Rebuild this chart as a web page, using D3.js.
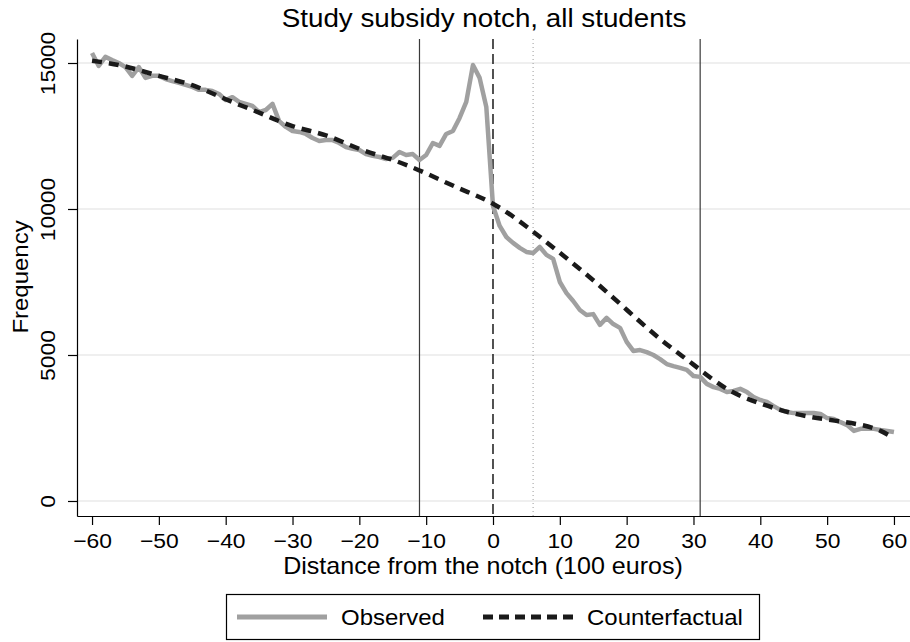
<!DOCTYPE html>
<html>
<head>
<meta charset="utf-8">
<script src="https://cdn.jsdelivr.net/npm/d3@7"></script>
<style>
  html, body { margin: 0; padding: 0; background: #fff; }
  svg { display: block; font-family: "Liberation Sans", Arial, Helvetica, sans-serif; }
  text { fill: #000; }
</style>
</head>
<body>
<svg id="chart" width="910" height="642"></svg>
<script>
// Observed bin counts, one bin per 100 euros, from -60 to 60
const binX = d3.range(-60, 61);
const observed = [
  15340, 14900, 15210, 15100, 15000, 14860, 14560, 14860, 14490, 14560, // -60..-51
  14560, 14450, 14380, 14320, 14250, 14180, 14080, 14080, 14040, 13940, // -50..-41
  13730, 13830, 13670, 13600, 13530, 13320, 13390, 13600, 13010, 12810, // -40..-31
  12670, 12640, 12570, 12430, 12330, 12360, 12360, 12260, 12120, 12060, // -30..-21
  12020, 11880, 11820, 11780, 11710, 11750, 11950, 11850, 11880, 11680, // -20..-11
  11850, 12260, 12160, 12570, 12670, 13120, 13670, 14930, 14490, 13490, // -10..-1
  10100,                                                                 // 0
  9420, 9040, 8840, 8670, 8530, 8490, 8700, 8430, 8290, 7500,           // 1..10
  7120, 6850, 6540, 6370, 6400, 6030, 6270, 6060, 5930, 5450,           // 11..20
  5140, 5170, 5100, 5000, 4860, 4690, 4620, 4560, 4490, 4280,           // 21..30
  4250, 4010, 3900, 3840, 3730, 3770, 3840, 3730, 3560, 3460,           // 31..40
  3390, 3250, 3120, 3050, 3010, 3010, 3010, 3010, 2980, 2840,           // 41..50
  2810, 2700, 2600, 2400, 2470, 2470, 2470, 2430, 2400, 2360            // 51..60
];

// Counterfactual (smooth fit), read at every 5 bins
const cfX = [-60, -55, -50, -45, -40, -35, -30, -25, -20, -15, -10, -5, 0, 5, 10, 15, 20, 25, 30, 35, 40, 45, 50, 55, 58, 60];
const counterfactual = [15080, 14880, 14560, 14240, 13760, 13300, 12840, 12520, 12060, 11680, 11220, 10700, 10180, 9400, 8500, 7560, 6550, 5550, 4670, 3840, 3340, 3000, 2790, 2610, 2400, 2150];

const xTicks = d3.range(-60, 61, 10);
const yTicks = [0, 5000, 10000, 15000];
const solidLines = [-11, 31];
const dashedLines = [0];
const dottedLines = [6];

const svg = d3.select("#chart");
const m = { left: 77, right: 910, top: 39, bottom: 516 };
const SX = 1.09; // glyphs in the original are a bit wider than Liberation Sans

const x = d3.scaleLinear().domain([-62.25, 62.4]).range([m.left, m.right]);
const y = d3.scaleLinear().domain([-514, 15822]).range([m.bottom, m.top]);

// grid
svg.append("g").selectAll("line").data(yTicks).enter().append("line")
  .attr("x1", m.left).attr("x2", m.right)
  .attr("y1", d => y(d)).attr("y2", d => y(d))
  .attr("stroke", "#eaeaea").attr("stroke-width", 1.6);

// reference lines
const vline = (vals, opts) => svg.append("g").selectAll("line").data(vals).enter().append("line")
  .attr("x1", d => x(d)).attr("x2", d => x(d))
  .attr("y1", m.top).attr("y2", m.bottom)
  .attr("stroke", opts.color).attr("stroke-width", opts.width)
  .attr("stroke-dasharray", opts.dash || null);
vline(solidLines, { color: "#3a3a3a", width: 1.2 });
vline(dashedLines, { color: "#1a1a1a", width: 1.5, dash: "10,5" });
vline(dottedLines, { color: "#9a9a9a", width: 1, dash: "1,3" });

// observed
const obsLine = d3.line().x((d, i) => x(binX[i])).y(d => y(d));
svg.append("path").datum(observed)
  .attr("d", obsLine)
  .attr("fill", "none").attr("stroke", "#a0a0a0").attr("stroke-width", 4.5)
  .attr("stroke-linejoin", "round");

// counterfactual
const cfLine = d3.line().x((d, i) => x(cfX[i])).y(d => y(d)).curve(d3.curveNatural);
svg.append("path").datum(counterfactual)
  .attr("d", cfLine)
  .attr("fill", "none").attr("stroke", "#1a1a1a").attr("stroke-width", 4.5)
  .attr("stroke-dasharray", "10,7");

// axes
const xAxis = svg.append("g").attr("transform", `translate(0,${m.bottom})`)
  .call(d3.axisBottom(x).tickValues(xTicks).tickSize(9).tickSizeOuter(0));
xAxis.select(".domain").attr("stroke", "#000").attr("stroke-width", 1.2);
xAxis.selectAll(".tick line").attr("stroke", "#000").attr("stroke-width", 1.2);
xAxis.selectAll(".tick text")
  .attr("y", null).attr("dy", null)
  .attr("transform", `translate(0,32) scale(${SX},1)`);

const yAxis = svg.append("g").attr("transform", `translate(${m.left},0)`)
  .call(d3.axisLeft(y).tickValues(yTicks).tickSize(9).tickSizeOuter(0).tickFormat(d3.format("d")));
yAxis.select(".domain").attr("stroke", "#000").attr("stroke-width", 1.2);
yAxis.selectAll(".tick line").attr("stroke", "#000").attr("stroke-width", 1.2);
yAxis.selectAll(".tick text")
  .attr("x", null).attr("dy", null)
  .attr("text-anchor", "middle")
  .attr("transform", `translate(-22,0) rotate(-90) scale(${SX},1)`);
svg.selectAll(".tick text").attr("font-family", null).attr("font-size", 21).attr("fill", "#000");

// titles
const label = (tx, ty, rot, size, str, anchor) => svg.append("text")
  .attr("transform", `translate(${tx},${ty}) rotate(${rot}) scale(${SX},1)`)
  .attr("text-anchor", anchor || "middle")
  .attr("font-size", size).text(str);
label(484, 27, 0, 25.5, "Study subsidy notch, all students");
label(483, 574, 0, 23, "Distance from the notch (100 euros)");
label(28, 277, -90, 22, "Frequency");

// legend
const lg = svg.append("g");
lg.append("rect").attr("x", 226.5).attr("y", 594.5).attr("width", 533).attr("height", 45)
  .attr("fill", "#fff").attr("stroke", "#000").attr("stroke-width", 1.2);
lg.append("line").attr("x1", 237).attr("x2", 327).attr("y1", 617).attr("y2", 617)
  .attr("stroke", "#a0a0a0").attr("stroke-width", 4.8);
label(341, 625, 0, 22, "Observed", "start");
lg.append("line").attr("x1", 483).attr("x2", 573).attr("y1", 617).attr("y2", 617)
  .attr("stroke", "#1a1a1a").attr("stroke-width", 4.8).attr("stroke-dasharray", "10,6");
label(587, 625, 0, 22, "Counterfactual", "start");
</script>
</body>
</html>
